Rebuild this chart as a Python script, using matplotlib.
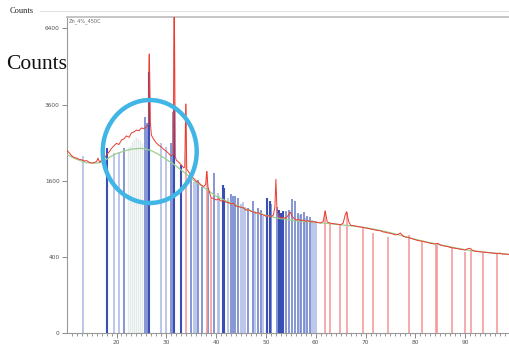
import numpy as np
import matplotlib
matplotlib.use("Agg")
import matplotlib.pyplot as plt
from matplotlib.patches import Ellipse

# ---------------- data ----------------
meas_x = [10.0, 10.5, 11.0, 11.5, 12.0, 12.5, 13.0, 13.5, 14.0, 14.5, 15.0, 15.5, 16.0, 16.3, 16.6,
          17.0, 17.5, 18.0, 18.5, 19.0, 19.5, 20.0, 20.5, 21.0, 21.5, 22.0, 22.5, 23.0, 23.5, 24.0,
          24.5, 25.0, 25.5, 26.0, 26.4, 26.6, 26.8, 27.0, 27.5, 28.0, 28.5, 29.0, 29.5, 30.0, 30.5,
          31.0, 31.4, 31.6, 31.8, 32.0, 32.5, 33.0, 33.5, 33.7, 33.9, 34.1, 34.5, 35.0, 35.5, 36.0,
          36.5, 37.0, 37.5, 37.9, 38.1, 38.4, 39.0, 39.5, 40.0, 40.5, 41.0, 41.5, 42.0, 42.5, 43.0,
          43.5, 44.0, 44.5, 45.0, 45.5, 46.0, 46.5, 47.0, 47.5, 48.0, 48.5, 49.0, 49.5, 50.0, 50.5,
          51.0, 51.5, 51.8, 52.0, 52.2, 52.5, 53.0, 53.5, 54.0, 54.5, 54.9, 55.3, 56.0, 56.5, 57.0,
          57.5, 58.0, 58.5, 59.0, 59.5, 60.0, 60.5, 61.0, 61.5, 61.9, 62.3, 63.0, 63.5, 64.0, 64.5,
          65.0, 65.5, 65.9, 66.2, 66.6, 67.0, 67.5, 68.0, 68.5, 69.0, 69.5, 70.0, 70.5, 71.0, 71.5,
          72.0, 72.5, 73.0, 73.5, 74.0, 74.5, 75.0, 75.5, 76.0, 76.5, 77.0, 77.5, 78.0, 78.5, 79.0,
          79.5, 80.0, 80.5, 81.0, 81.5, 82.0, 82.5, 83.0, 83.5, 84.0, 84.5, 85.0, 85.5, 86.0, 86.5,
          87.0, 87.5, 88.0, 88.5, 89.0, 89.5, 90.0, 90.5, 91.0, 91.5, 92.0, 92.5, 93.0, 93.5, 94.0,
          94.5, 95.0, 95.5, 96.0, 96.5, 97.0, 97.5, 98.0, 98.5, 98.8]
meas_counts = [2310, 2240, 2170, 2120, 2110, 2080, 2070, 2040, 2050, 2010, 1990, 2000, 2030, 2110, 2010,
               2060, 2090, 2190, 2260, 2350, 2420, 2480, 2450, 2570, 2600, 2680, 2640, 2760, 2790, 2840,
               2820, 2900, 2880, 2930, 3000, 5370, 3050, 2700, 2580, 2490, 2430, 2390, 2320, 2280, 2220,
               2160, 2200, 8000, 2150, 2060, 2010, 1950, 1880, 1900, 3620, 1850, 1790, 1700, 1650, 1590,
               1560, 1510, 1480, 1520, 1800, 1450, 1260, 1250, 1220, 1240, 1200, 1210, 1180, 1170, 1150,
               1160, 1110, 1100, 1090, 1080, 1040, 1050, 1020, 1010, 990, 1000, 970, 960, 940, 950,
               930, 960, 1100, 1630, 1080, 950, 910, 920, 905, 960, 1010, 930, 880, 890, 870,
               880, 860, 870, 850, 855, 850, 840, 835, 860, 1030, 850, 830, 825, 820, 815,
               810, 830, 960, 1015, 860, 800, 795, 790, 780, 775, 770, 760, 755, 745, 740,
               730, 725, 720, 705, 700, 690, 685, 675, 665, 670, 690, 650, 635, 630, 620,
               610, 600, 590, 585, 580, 570, 565, 555, 550, 545, 555, 535, 525, 520, 515,
               505, 500, 495, 490, 485, 480, 475, 490, 495, 470, 462, 458, 455, 452, 450,
               446, 442, 440, 438, 435, 440, 430, 430, 428, 425]

bg_x = [10, 12, 14, 16, 17, 18, 19, 20, 21, 22, 23, 24, 25, 26, 27, 28, 29, 30, 31, 32, 33, 34, 35,
        36, 37, 38, 40, 42, 44, 46, 48, 50, 52, 54, 56, 58, 60, 62, 64, 66, 68, 70, 72, 74, 76, 78,
        80, 82, 84, 86, 88, 90, 92, 94, 96, 98.8]
bg_counts = [2200, 2080, 2000, 1990, 2010, 2080, 2160, 2220, 2260, 2300, 2330, 2345, 2350, 2330, 2290,
             2230, 2160, 2080, 2000, 1920, 1830, 1740, 1650, 1570, 1500, 1430, 1290, 1200, 1130, 1060,
             1000, 955, 915, 890, 870, 855, 845, 830, 815, 800, 785, 765, 740, 710, 675, 640, 605, 575,
             550, 525, 500, 478, 462, 450, 440, 425]

dark_x = [18.0, 26.6, 31.6, 32.9, 41.3, 41.6, 50.3, 50.8, 52.7, 53.1, 53.4]
dark_h = [2350, 4700, 3585, 1945, 1510, 1450, 1250, 1200, 1050, 1000, 1020]

mid_x = [21.5, 25.8, 26.2, 30.9, 31.3, 35.0, 36.4, 37.1, 38.3, 39.6, 42.9, 43.3, 43.8, 44.3, 46.4,
         47.4, 48.5, 49.0, 51.1, 52.3, 54.0, 54.6, 55.2, 55.9, 56.4, 57.0, 57.6, 58.2, 58.8]
mid_h = [2350, 3225, 3040, 2490, 3375, 1613, 1613, 1475, 1450, 1764, 1330, 1290, 1300, 1250, 1080,
         1200, 1080, 1050, 1150, 1090, 1020, 1040, 1230, 1200, 1000, 980, 1010, 950, 930]

light_x = [13.2, 19.5, 20.4, 29.0, 30.0, 35.6, 36.0, 40.3, 40.6, 42.4, 45.0, 45.4, 45.8, 47.8, 49.5,
           56.8, 57.9, 59.3, 59.7, 60.0]
light_h = [2160, 2225, 2265, 2500, 2390, 1578, 1600, 1346, 1300, 1250, 1150, 1180, 1100, 1020, 940,
           960, 920, 880, 870, 860]

pale_x = [22.3, 22.7, 23.1, 23.5, 23.9, 24.3, 24.7, 25.1]
pale_h = [2380, 2450, 2550, 2600, 2640, 2620, 2560, 2500]

red_x = [26.6, 31.6, 33.9, 38.1, 39.0, 61.9, 62.8, 64.9, 66.2, 69.4, 71.4, 74.5, 78.8, 81.4, 84.1,
         84.4, 87.4, 90.0, 91.1, 93.6, 96.4]
red_h = [5370, 8000, 3620, 1800, 1250, 1030, 830, 810, 1015, 760, 690, 640, 662, 575, 534,
         534, 494, 456, 470, 442, 430]

y_ticks = [0, 400, 1600, 3600, 6400]
x_major = [20, 30, 40, 50, 60, 70, 80, 90]
x_minor = list(range(11, 99))

# ---------------- figure ----------------
W, H = 510, 350
fig = plt.figure(figsize=(W / 100, H / 100), dpi=100)
L, R, T, B = 66.7, 509.0, 16.7, 333.0
ax = fig.add_axes([L / W, (H - B) / H, (R - L) / W, (B - T) / H])

fwd = lambda v: np.sqrt(np.clip(v, 0, None))
inv = lambda v: np.asarray(v) ** 2
ax.set_yscale('function', functions=(fwd, inv))
ax.set_xlim(10, 98.8)
ax.set_ylim(0, 6900)

ax.vlines(pale_x, 0, pale_h, colors='#e2ebea', lw=1.0, zorder=1)
ax.vlines(light_x, 0, light_h, colors='#a9b6e3', lw=1.1, zorder=2)
ax.vlines(mid_x, 0, mid_h, colors='#7084cd', lw=1.2, zorder=3)
ax.vlines(red_x, 0, red_h, colors='#f39595', lw=1.1, zorder=3.5)
ax.vlines(dark_x, 0, dark_h, colors='#3a4fb4', lw=1.5, zorder=4)

ax.plot(bg_x, bg_counts, color='#9ccf8e', lw=0.9, zorder=5)
ax.plot(meas_x, meas_counts, color='#ec3a30', lw=0.7, zorder=6)

ax.add_patch(Ellipse((0.1877, 0.5738), 0.2125, 0.3256, transform=ax.transAxes,
                     fill=False, ec='#41b6e6', lw=3.2, zorder=10))

ax.set_yticks(y_ticks)
ax.set_yticklabels([str(v) for v in y_ticks])
ax.set_xticks(x_major)
ax.set_xticklabels([str(v) for v in x_major])
ax.set_xticks(x_minor, minor=True)
ax.tick_params(axis='both', which='major', labelsize=4.2, labelcolor='#555555', color='#888888',
               length=3.5, width=0.7, pad=1.5)
ax.tick_params(axis='x', which='minor', color='#888888', length=1.8, width=0.6)
ax.tick_params(axis='y', which='minor', left=False)

ax.spines['right'].set_visible(False)
ax.spines['left'].set_color('#999999')
ax.spines['bottom'].set_color('#999999')
ax.spines['top'].set_color('#bbbbbb')
ax.spines['left'].set_linewidth(0.8)
ax.spines['bottom'].set_linewidth(0.8)
ax.spines['top'].set_linewidth(1.2)

ax.text(0.004, 0.995, 'Zn_4%_450C', transform=ax.transAxes, fontsize=3.6, color='#666666',
        ha='left', va='top')

fig.text(10 / W, 1 - 11 / H, 'Counts', family='Liberation Serif', fontsize=6, color='#222222',
         ha='left', va='center')
fig.add_artist(plt.Line2D([40 / W, 1.0], [1 - 11 / H, 1 - 11 / H], transform=fig.transFigure,
                          color='#e2e2e2', lw=0.8))
fig.text(6 / W, 1 - 69 / H, 'Counts', family='Liberation Serif', fontsize=15.5, color='#111111',
         ha='left', va='baseline')

fig.savefig('out.png', dpi=100)
